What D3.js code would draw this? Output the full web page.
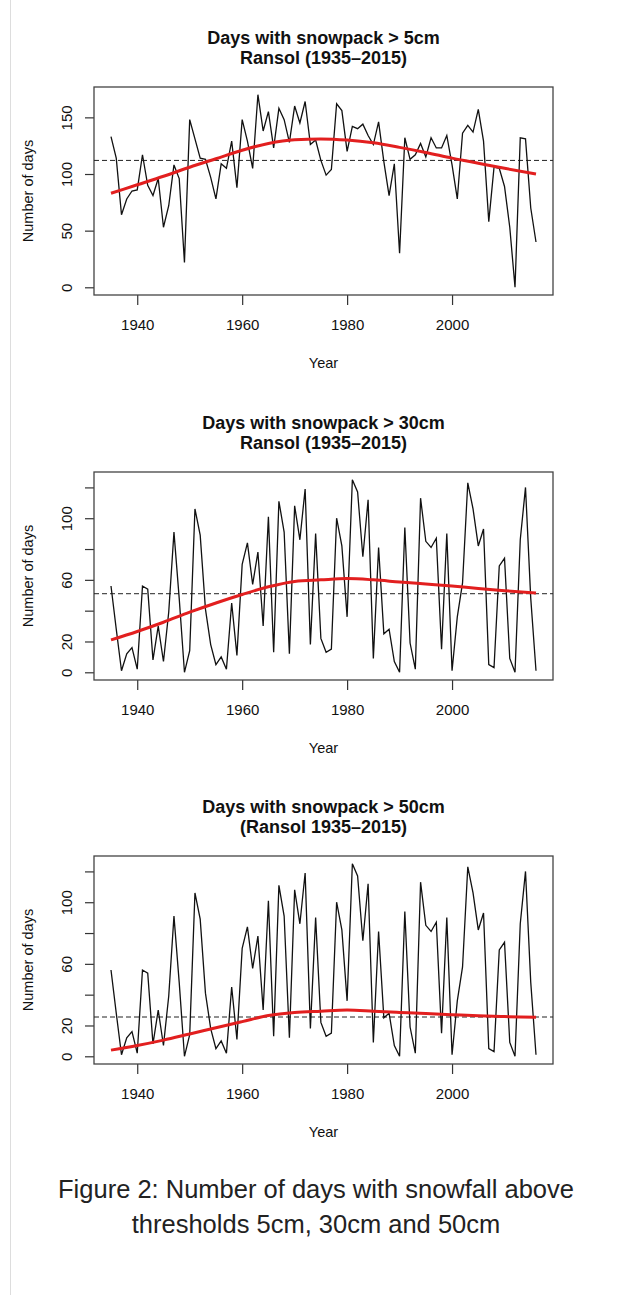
<!DOCTYPE html>
<html>
<head>
<meta charset="utf-8">
<script src="https://cdn.jsdelivr.net/npm/d3@7"></script>
<style>
  body { margin: 0; background: #fff; }
  svg text { font-family: "Liberation Sans", Arial, Helvetica, sans-serif; }
</style>
</head>
<body>
<svg id="fig" width="624" height="1295"></svg>
<script>
// yearly values, 1935..2016
const years = d3.range(1935, 2017);

const snow5 = [133, 114, 64, 78, 85, 86, 117, 90, 81, 96,
  53, 72, 108, 96, 22, 148, 131, 114, 113, 97,
  78, 109, 105, 129, 88, 148, 129, 105, 170, 138,
  155, 123, 158, 148, 128, 160, 145, 164, 126, 130,
  112, 99, 104, 162, 156, 120, 142, 140, 144, 134,
  126, 146, 111, 81, 109, 30, 132, 113, 117, 127,
  115, 132, 123, 123, 134, 108, 78, 136, 143, 137,
  157, 129, 58, 106, 105, 89, 53, 0, 132, 131,
  70, 40];

const snow30 = [56, 28, 1, 12, 16, 2, 56, 54, 8, 30,
  7, 39, 91, 48, 0, 14, 106, 89, 41, 18,
  5, 10, 2, 45, 11, 70, 84, 57, 78, 30,
  101, 13, 111, 91, 12, 108, 86, 119, 18, 90,
  22, 13, 15, 100, 82, 36, 125, 117, 75, 112,
  9, 81, 25, 28, 7, 0, 94, 19, 2, 113,
  85, 81, 87, 15, 90, 1, 36, 58, 123, 106,
  82, 93, 5, 3, 69, 74, 9, 0, 86, 120,
  48, 1];

// the third panel shows the very same black curve as the second one
const snow50 = snow30;

// smoothed trend (red) read at a few years
const trendYears = [1935, 1940, 1945, 1950, 1955, 1960, 1965, 1970, 1975, 1980, 1985, 1990, 1995, 2000, 2005, 2010, 2016];
const trend5  = [83, 90.5, 98, 106, 113.5, 121, 127, 130.3, 131, 130, 127.5, 123.5, 119, 114, 109.5, 105, 100];
const trend30 = [21, 26.5, 32.5, 39, 45, 50.5, 55.5, 59, 60, 60.8, 60, 58.6, 57.3, 56, 54.4, 53, 51.5];
const trend50 = [4, 7, 10.5, 14.5, 18.5, 22.5, 26.5, 28.5, 29.3, 30, 29.3, 28.5, 27.7, 27, 26.3, 25.8, 25.3];

// horizontal dashed reference lines
const mean5 = 112, mean30 = 51, mean50 = 25.5;

const xTicks = [1940, 1960, 1980, 2000];
const yTicks5 = [0, 50, 100, 150];
const yLabels5 = [0, 50, 100, 150];
const yTicks30 = [0, 20, 40, 60, 80, 100, 120];
const yLabels30 = [0, 20, 60, 100];

const titles = [
  ["Days with snowpack > 5cm", "Ransol (1935\u20132015)"],
  ["Days with snowpack > 30cm", "Ransol (1935\u20132015)"],
  ["Days with snowpack > 50cm", "(Ransol 1935\u20132015)"]
];

const svg = d3.select("#fig");
svg.append("rect").attr("width", 624).attr("height", 1295).attr("fill", "#fff");
svg.append("line").attr("x1", 10.5).attr("x2", 10.5).attr("y1", 0).attr("y2", 1295)
  .attr("stroke", "#ddd").attr("stroke-width", 1);

const box = { left: 94, right: 553, top: 87, bottom: 295 };

function panel(top, title, values, tVals, meanVal, yTicks, yLabels) {
  const g = svg.append("g").attr("transform", `translate(0,${top})`);

  // R style 4% padding on both axes
  const xr = d3.extent(years), xp = (xr[1] - xr[0]) * 0.04;
  const yr = d3.extent(values), yp = (yr[1] - yr[0]) * 0.04;
  const x = d3.scaleLinear().domain([xr[0] - xp, xr[1] + xp]).range([box.left, box.right]);
  const y = d3.scaleLinear().domain([yr[0] - yp, yr[1] + yp]).range([box.bottom, box.top]);

  // titles
  g.append("text").attr("x", (box.left + box.right) / 2).attr("y", 44)
    .attr("text-anchor", "middle").attr("font-weight", "bold").attr("font-size", 18)
    .attr("fill", "#111").text(title[0]);
  g.append("text").attr("x", (box.left + box.right) / 2).attr("y", 63.5)
    .attr("text-anchor", "middle").attr("font-weight", "bold").attr("font-size", 18)
    .attr("fill", "#111").text(title[1]);

  // axes
  const ax = g.append("g").attr("transform", `translate(0,${box.bottom})`)
    .call(d3.axisBottom(x).tickValues(xTicks).tickSize(10).tickPadding(14).tickFormat(d3.format("d")));
  ax.select(".domain").remove();
  ax.selectAll("line").attr("stroke", "#333").attr("stroke-width", 1.2);
  ax.selectAll("text").attr("font-size", 15).attr("fill", "#111").attr("font-family", null);

  const ay = g.append("g").attr("transform", `translate(${box.left},0)`)
    .call(d3.axisLeft(y).tickValues(yTicks).tickSize(9));
  ay.select(".domain").remove();
  ay.selectAll("line").attr("stroke", "#333").attr("stroke-width", 1.2);
  ay.selectAll("text")
    .attr("x", null).attr("dy", null)
    .attr("text-anchor", "middle")
    .attr("transform", "translate(-22,0) rotate(-90)")
    .attr("font-size", 15).attr("fill", "#111").attr("font-family", null)
    .text(d => yLabels.includes(d) ? d : "");

  // axis titles
  g.append("text").attr("x", (box.left + box.right) / 2).attr("y", 368)
    .attr("text-anchor", "middle").attr("font-size", 14.5).attr("fill", "#111").text("Year");
  g.append("text")
    .attr("transform", `translate(32.5,${(box.top + box.bottom) / 2}) rotate(-90)`)
    .attr("text-anchor", "middle").attr("font-size", 14.5).attr("fill", "#111").text("Number of days");

  // plot box
  g.append("rect").attr("x", box.left).attr("y", box.top)
    .attr("width", box.right - box.left).attr("height", box.bottom - box.top)
    .attr("fill", "none").attr("stroke", "#444").attr("stroke-width", 1.3);

  // mean line
  g.append("line").attr("x1", box.left).attr("x2", box.right)
    .attr("y1", y(meanVal)).attr("y2", y(meanVal))
    .attr("stroke", "#222").attr("stroke-width", 1).attr("stroke-dasharray", "5,3");

  // yearly series
  const line = d3.line().x((d, i) => x(years[i])).y(d => y(d));
  g.append("path").datum(values).attr("d", line)
    .attr("fill", "none").attr("stroke", "#111").attr("stroke-width", 1.3)
    .attr("stroke-linejoin", "miter");

  // trend
  const tline = d3.line().x((d, i) => x(trendYears[i])).y(d => y(d)).curve(d3.curveMonotoneX);
  g.append("path").datum(tVals).attr("d", tline)
    .attr("fill", "none").attr("stroke", "#e21f1f").attr("stroke-width", 3);
}

panel(0, titles[0], snow5, trend5, mean5, yTicks5, yLabels5);
panel(385, titles[1], snow30, trend30, mean30, yTicks30, yLabels30);
panel(769, titles[2], snow50, trend50, mean50, yTicks30, yLabels30);

// figure caption
svg.append("text").attr("x", 316).attr("y", 1198).attr("text-anchor", "middle")
  .attr("font-size", 25.5).attr("fill", "#222").text("Figure 2: Number of days with snowfall above");
svg.append("text").attr("x", 316).attr("y", 1233).attr("text-anchor", "middle")
  .attr("font-size", 25.5).attr("fill", "#222").text("thresholds 5cm, 30cm and 50cm");
</script>
</body>
</html>
